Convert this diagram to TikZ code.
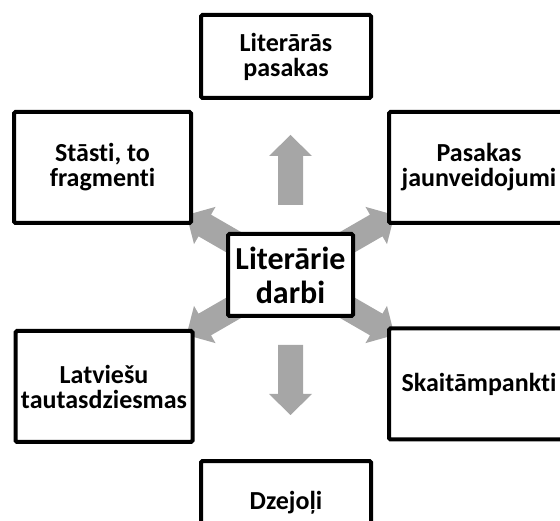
\documentclass[tikz,border=0pt]{standalone}
\usepackage{fontspec}
\setmainfont{Carlito}[Ligatures={NoCommon}]
\usetikzlibrary{backgrounds}
\definecolor{arrowgray}{HTML}{A6A6A6}
\tikzset{
  box/.style={draw=black, line width=4pt, fill=white, rounded corners=1.5pt,
    align=center, inner sep=0pt,
    font=\bfseries\fontsize{26}{25}\selectfont},
  sidebox/.style={box, minimum width=177pt, minimum height=111pt},
  rightbox/.style={box, minimum width=180pt, minimum height=111pt},
  vertbox/.style={box, minimum width=170pt, minimum height=83pt},
  centerbox/.style={box, minimum width=125pt, minimum height=82pt,
    font=\bfseries\fontsize{32}{34}\selectfont},
  blockarrow/.style={fill=arrowgray, draw=none}
}
% #1 angle, #2 start distance, #3 tip distance (from centre node)
\newcommand{\blockarr}[3]{%
  \fill[blockarrow, shift={(c.center)}, rotate=#1]
    (#2,-12.5) -- (#3-21,-12.5) -- (#3-21,-21.5) -- (#3,0) --
    (#3-21,21.5) -- (#3-21,12.5) -- (#2,12.5) -- cycle;
}
\begin{document}
\begin{tikzpicture}[x=1pt, y=-1pt]
  \useasboundingbox (0,0) rectangle (560,521);
  \clip (0,0) rectangle (560,521);

  \node[centerbox] (c) at (290.5,275) {Literārie\\darbi};

  \node[vertbox] (t) at (286,56.5) {Literārās\\pasakas};
  \node[sidebox] (tl) at (102.5,167.5) {Stāsti, to\\fragmenti};
  \node[rightbox] (tr) at (479,167.5) {Pasakas\\jaunveidojumi};
  \node[sidebox] (bl) at (104,386.5) {Latviešu\\tautasdziesmas};
  \node[rightbox] (br) at (479,384) {Skaitāmpankti};
  \node[vertbox] (b) at (286,502.5) {Dzejoļi};

  \begin{scope}[on background layer]
    \blockarr{90}{70}{140}
    \blockarr{270}{70}{140}
    \blockarr{30}{50}{120}
    \blockarr{150}{50}{120}
    \blockarr{210}{50}{120}
    \blockarr{330}{50}{120}
  \end{scope}
\end{tikzpicture}
\end{document}
